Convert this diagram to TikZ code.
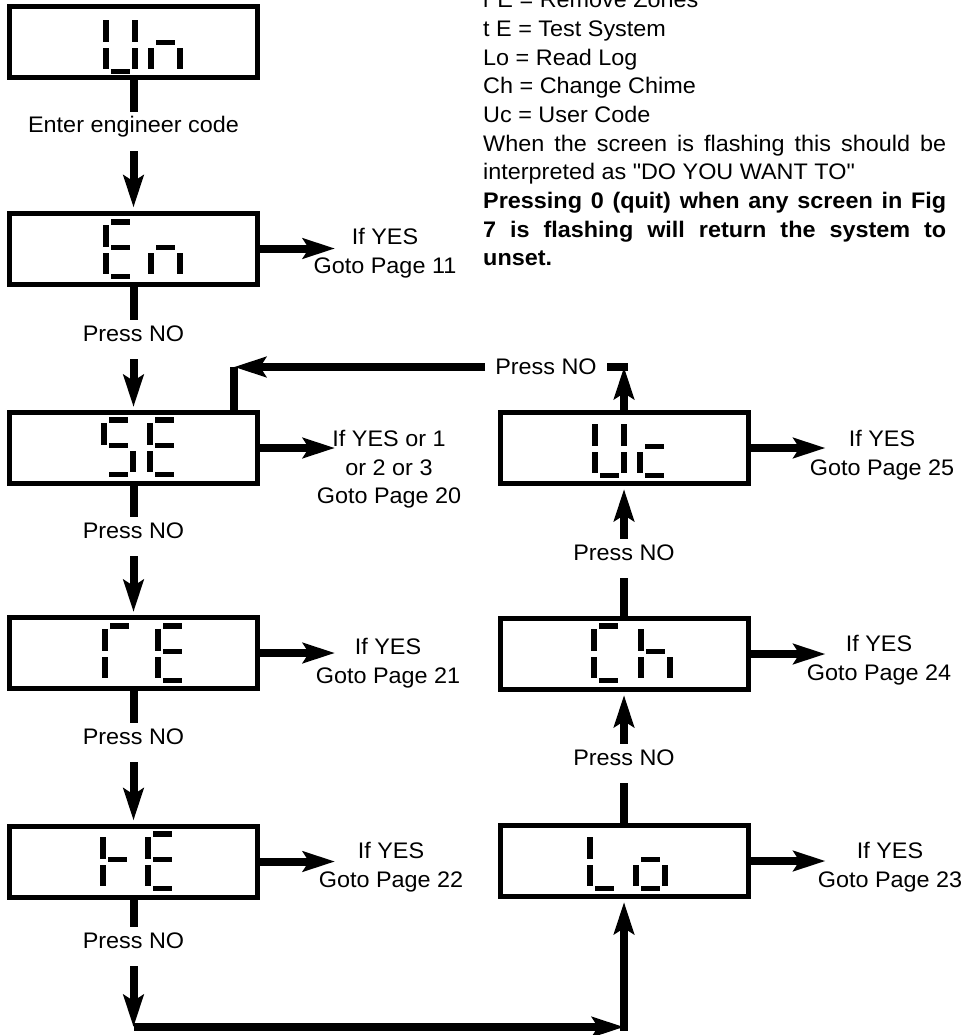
\documentclass[tikz,border=0pt]{standalone}
\usepackage{fontspec}
\setmainfont{Liberation Sans}[FakeStretch=1.04,Ligatures=TeXOff]
\usetikzlibrary{arrows.meta}
% seven segment pieces, digit origin at top left, y downwards
\def\lcda{(8,0) rectangle (27,6)}
\def\lcdb{(29,6) rectangle (35,28)}
\def\lcdc{(29,34) rectangle (35,55)}
\def\lcdd{(8,55) rectangle (27,60)}
\def\lcde{(0,34) rectangle (6,55)}
\def\lcdf{(0,6) rectangle (6,28)}
\def\lcdg{(8,26) rectangle (27,31)}
\newcommand\lcddigit[3]{%
  \begin{scope}[shift={(#1,#2)}]
    \foreach \s in {#3}{\expandafter\expandafter\expandafter\fill\csname lcd\s\endcsname;}
  \end{scope}}
\tikzset{
  lcdbox/.style={draw,line width=5pt,minimum width=248pt,minimum height=71pt,inner sep=0pt},
  nline/.style={line width=8pt},
  narr/.style={-{Stealth[length=32pt,width=20pt,inset=6pt]},line width=8pt},
  nin/.style={narr,shorten >=3pt},
  nlab/.style={anchor=base,inner xsep=2pt,inner ysep=5pt,text height=16pt,text depth=13pt},
  ylab/.style={anchor=north,align=center,inner sep=0pt}
}

\begin{document}
\begin{tikzpicture}[x=1pt,y=-1pt,font=\fontsize{22.5}{28.7}\selectfont]
  \useasboundingbox (0,0) rectangle (968,1035);
  % displays
  \node[lcdbox] (Un) at (133.5,42.5) {};
  \node[lcdbox] (En) at (133.5,248.5) {};
  \node[lcdbox] (SE) at (133.5,448) {};
  \node[lcdbox] (rE) at (133.5,653) {};
  \node[lcdbox] (tE) at (133.5,861.5) {};
  \node[lcdbox] (Uc) at (624,448) {};
  \node[lcdbox] (Ch) at (624,654) {};
  \node[lcdbox] (Lo) at (624,861) {};
  \lcddigit{103}{14}{b,c,d,e,f}  \lcddigit{148}{14}{c,e,g}
  \lcddigit{103}{219}{a,d,e,f,g} \lcddigit{148}{219}{c,e,g}
  \lcddigit{101}{417}{a,f,g,c,d} \lcddigit{147}{417}{a,f,g,e,d}
  \lcddigit{102}{623}{a,f,e}     \lcddigit{155}{623}{a,f,g,e,d}
  \lcddigit{100}{831}{f,g,e}     \lcddigit{145}{831}{a,f,g,e,d}
  \lcddigit{592}{418}{b,c,d,e,f} \lcddigit{637}{418}{g,e,d}
  \lcddigit{591}{623}{a,f,e,d}   \lcddigit{638}{623}{f,g,e,c}
  \lcddigit{587}{831}{f,e,d}     \lcddigit{633}{831}{g,e,c,d}
  % NO path
  \node[nlab] (enter) at (133.5,133) {Enter engineer code};
  \node[nlab] (noEn) at (133.5,341) {Press NO};
  \node[nlab] (noSE) at (133.5,538) {Press NO};
  \node[nlab] (norE) at (133.5,744) {Press NO};
  \node[nlab] (notE) at (133.5,948) {Press NO};
  \node[nlab] (noLo) at (624,765) {Press NO};
  \node[nlab] (noCh) at (624,560) {Press NO};
  \node[inner xsep=10pt,inner ysep=0pt] (noUc) at (546,367) {Press NO};
  \foreach \a/\b/\c in {Un/enter/En,En/noEn/SE,SE/noSE/rE,rE/norE/tE,Lo/noLo/Ch,Ch/noCh/Uc}{
    \draw[nline] (\a) -- (\b);
    \draw[nin] (\b) -- (\c);
  }
  \coordinate (lowL) at (133.5,1027);
  \coordinate (lowR) at (624,1027);
  \draw[nline] (tE) -- (notE);
  \draw[narr] (notE) -- (lowL);
  \draw[narr] (lowL) -- (lowR);
  \draw[nin,line cap=rect] (lowR) -- (Lo);
  \coordinate (turnUc) at (628,367);
  \coordinate (backSE) at (234,367);
  \draw[narr] (Uc) -- (Uc |- turnUc);
  \draw[nline] (turnUc) -- (noUc);
  \draw[narr] (noUc) -- (backSE);
  \draw[nline] (backSE) -- (backSE |- SE.north);
  % YES branches
  \foreach \b in {En,SE,rE,tE,Uc,Ch,Lo}
    \draw[narr] (\b.east) -- ++(75,0) coordinate (\b-yes);
  \node[ylab] (yEn) at (385,228) {If YES\\Goto Page 11};
  \node[ylab] (ySE) at (389,430) {If YES or 1\\or 2 or 3\\Goto Page 20};
  \node[ylab] (yrE) at (388,638) {If YES\\Goto Page 21};
  \node[ylab] (ytE) at (391,842) {If YES\\Goto Page 22};
  \node[ylab] (yLo) at (890,842) {If YES\\Goto Page 23};
  \node[ylab] (yCh) at (879,635) {If YES\\Goto Page 24};
  \node[ylab] (yUc) at (882,430) {If YES\\Goto Page 25};
  % key
  \node[anchor=north west,text width=463pt,align=justify,inner sep=0pt] (legend) at (483,-8)
    {r E = Remove Zones\\
     t E = Test System\\
     Lo = Read Log\\
     Ch = Change Chime\\
     Uc = User Code\\
     When the screen is flashing this should be\linebreak interpreted as "DO YOU WANT TO"\\
     \textbf{Pressing 0 (quit) when any screen in Fig\linebreak 7 is flashing will return the system to\linebreak unset.}};
\end{tikzpicture}
\end{document}
